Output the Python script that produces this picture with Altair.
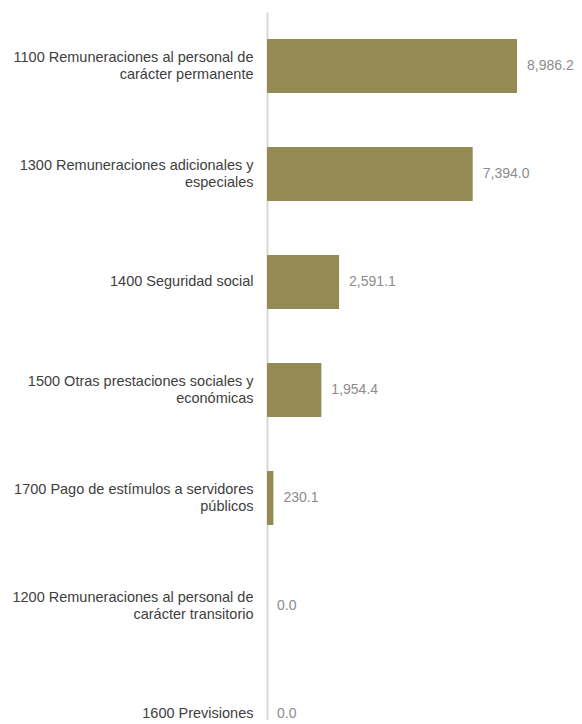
import altair as alt
import pandas as pd

categories = [
    "1100 Remuneraciones al personal de|carácter permanente",
    "1300 Remuneraciones adicionales y|especiales",
    "1400 Seguridad social",
    "1500 Otras prestaciones sociales y|económicas",
    "1700 Pago de estímulos a servidores|públicos",
    "1200 Remuneraciones al personal de|carácter transitorio",
    "1600 Previsiones",
]
values = [8986.2, 7394.0, 2591.1, 1954.4, 230.1, 0.0, 0.0]

df = pd.DataFrame({"cat": categories, "val": values})
df["lbl"] = df["val"].map(lambda v: f"{v:,.1f}")

FONT = "Liberation Sans"
FS = 14.5

y_enc = alt.Y(
    "cat:N",
    sort=categories,
    title=None,
    scale=alt.Scale(paddingInner=0.5, paddingOuter=0.25, range=[0, 756]),
    axis=alt.Axis(
        labelExpr="split(datum.label, '|')",
        labelFont=FONT,
        labelFontSize=FS,
        labelColor="#404040",
        labelLineHeight=17,
        labelPadding=14,
        labelOffset={
            "condition": {"test": "indexof(datum.value, '|') >= 0", "value": -8.5},
            "value": 0,
        },
        ticks=False,
        domainColor="#d9d9d9",
        domainWidth=2,
        labelLimit=400,
        grid=False,
    ),
)
x_enc = alt.X("val:Q", scale=alt.Scale(domain=[0, 11035]), axis=None)

bars = alt.Chart(df).mark_bar(color="#948A54").encode(x=x_enc, y=y_enc)
text = alt.Chart(df).mark_text(
    align="left", baseline="middle", dx=10, font=FONT, fontSize=14, color="#8c8c8c"
).encode(x=x_enc, y=alt.Y("cat:N", sort=categories), text="lbl:N")

chart = (
    (bars + text)
    .properties(
        width=307,
        height=708,
        autosize=alt.AutoSizeParams(type="none"),
        padding={"left": 259, "top": 4, "right": 0, "bottom": 0},
    )
    .configure_view(stroke=None)
)

chart.save("out.html", embed_options={"renderer": "svg", "actions": False})
